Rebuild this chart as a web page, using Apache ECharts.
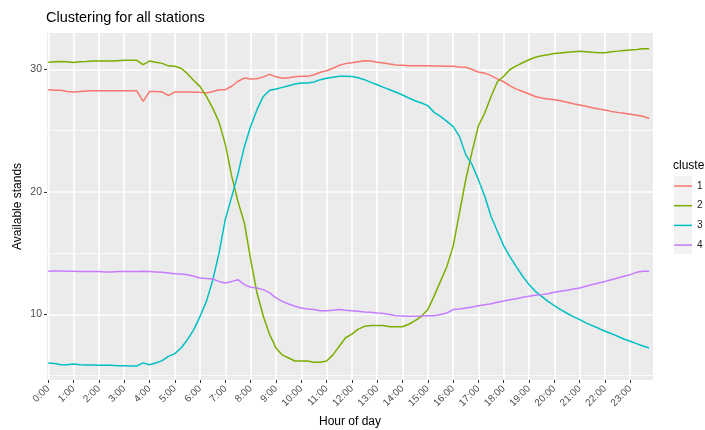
<!DOCTYPE html>
<html>
<head>
<meta charset="utf-8">
<script src="https://cdn.jsdelivr.net/npm/echarts@6/dist/echarts.min.js"></script>
<style>
  html, body { margin: 0; padding: 0; background: #fff; }
  #chart { width: 705px; height: 430px; }
</style>
</head>
<body>
<div id="chart"></div>
<script>
// one reading every 15 minutes, 0:00 .. 23:45 (hours as numbers)
const times = Array.from({ length: 96 }, (_, i) => i / 4)

const hourTicks = [0, 1, 2, 3, 4, 5, 6, 7, 8, 9, 10, 11, 12, 13, 14, 15, 16, 17, 18, 19, 20, 21, 22, 23]
const hourLabels = ["0:00", "1:00", "2:00", "3:00", "4:00", "5:00", "6:00", "7:00", "8:00", "9:00", "10:00", "11:00",
  "12:00", "13:00", "14:00", "15:00", "16:00", "17:00", "18:00", "19:00", "20:00", "21:00", "22:00", "23:00"]
const yTicks = [10, 20, 30]
const yMinorTicks = [5, 15, 25]

const clusterNames = ["1", "2", "3", "4"]
const clusterColors = ["#F8766D", "#7CAE00", "#00BFC4", "#C77CFF"]

const cluster1 = [
  28.35, 28.3, 28.3, 28.2, 28.17, 28.2, 28.25, 28.27,
  28.27, 28.27, 28.27, 28.27, 28.27, 28.27, 28.25, 27.4,
  28.2, 28.2, 28.17, 27.86, 28.17, 28.17, 28.17, 28.14,
  28.14, 28.08, 28.2, 28.35, 28.35, 28.63, 29.04, 29.3,
  29.22, 29.25, 29.4, 29.6, 29.4, 29.28, 29.33, 29.4,
  29.44, 29.44, 29.57, 29.77, 29.9, 30.1, 30.34, 30.48,
  30.55, 30.64, 30.72, 30.69, 30.6, 30.53, 30.45, 30.37,
  30.34, 30.3, 30.3, 30.3, 30.3, 30.28, 30.28, 30.26,
  30.26, 30.2, 30.18, 30.0, 29.8, 29.7, 29.5, 29.24,
  29.0, 28.67, 28.4, 28.2, 28.0, 27.8, 27.67, 27.6,
  27.53, 27.44, 27.33, 27.2, 27.1, 27.0, 26.87, 26.77,
  26.7, 26.58, 26.5, 26.42, 26.34, 26.26, 26.18, 26.0,
]
const cluster2 = [
  30.6, 30.64, 30.66, 30.64, 30.58, 30.64, 30.66, 30.69,
  30.69, 30.69, 30.69, 30.72, 30.75, 30.75, 30.75, 30.4,
  30.69, 30.6, 30.5, 30.3, 30.26, 30.1, 29.66, 29.1,
  28.6, 27.8, 26.85, 25.7, 23.87, 21.3, 19.2, 17.47,
  14.48, 11.75, 9.85, 8.35, 7.27, 6.7, 6.45, 6.2,
  6.2, 6.2, 6.1, 6.1, 6.2, 6.7, 7.4, 8.1,
  8.4, 8.8, 9.03, 9.1, 9.1, 9.1, 9.0, 9.0,
  9.0, 9.2, 9.5, 9.85, 10.4, 11.5, 12.7, 13.9,
  15.56, 18.3, 21.0, 23.3, 25.4, 26.45, 27.8, 29.0,
  29.45, 30.0, 30.3, 30.55, 30.8, 31.0, 31.13, 31.2,
  31.3, 31.35, 31.4, 31.45, 31.48, 31.45, 31.4, 31.37,
  31.37, 31.45, 31.5, 31.56, 31.6, 31.64, 31.7, 31.7,
]
const cluster3 = [
  6.04, 5.99, 5.9, 5.9, 5.96, 5.9, 5.88, 5.88,
  5.85, 5.85, 5.85, 5.82, 5.82, 5.8, 5.8, 6.05,
  5.9, 6.04, 6.23, 6.58, 6.8, 7.26, 7.94, 8.76,
  9.85, 11.07, 12.8, 15.02, 17.8, 19.6, 21.5, 23.7,
  25.36, 26.72, 27.8, 28.3, 28.4, 28.54, 28.68, 28.82,
  28.9, 28.9, 28.98, 29.17, 29.28, 29.36, 29.44, 29.44,
  29.42, 29.33, 29.17, 28.95, 28.76, 28.54, 28.35, 28.14,
  27.92, 27.67, 27.45, 27.26, 27.05, 26.5, 26.18, 25.77,
  25.36, 24.54, 23.05, 22.23, 21.0, 19.65, 18.0, 16.8,
  15.6, 14.7, 13.88, 13.12, 12.44, 11.89, 11.48, 11.07,
  10.72, 10.4, 10.1, 9.82, 9.58, 9.31, 9.09, 8.87,
  8.63, 8.44, 8.22, 8.0, 7.81, 7.62, 7.43, 7.26,
]
const cluster4 = [
  13.52, 13.55, 13.55, 13.52, 13.52, 13.5, 13.5, 13.5,
  13.5, 13.47, 13.47, 13.5, 13.5, 13.5, 13.5, 13.52,
  13.5, 13.47, 13.44, 13.39, 13.33, 13.3, 13.25, 13.12,
  12.98, 12.93, 12.9, 12.7, 12.57, 12.7, 12.84, 12.44,
  12.22, 12.16, 12.03, 11.76, 11.35, 11.07, 10.86, 10.67,
  10.53, 10.45, 10.4, 10.31, 10.31, 10.34, 10.4, 10.34,
  10.3, 10.26, 10.2, 10.18, 10.12, 10.07, 9.99, 9.9,
  9.88, 9.85, 9.85, 9.88, 9.9, 9.9, 9.99, 10.12,
  10.4, 10.45, 10.53, 10.61, 10.72, 10.8, 10.88, 10.99,
  11.1, 11.2, 11.29, 11.4, 11.48, 11.56, 11.62, 11.7,
  11.81, 11.89, 11.97, 12.08, 12.16, 12.3, 12.44, 12.57,
  12.7, 12.84, 12.98, 13.12, 13.25, 13.44, 13.52, 13.52,
]
const clusters = [cluster1, cluster2, cluster3, cluster4]

const FONT = '"Liberation Sans", Arial, Helvetica, sans-serif'
const Y_MIN = 4.65
const Y_MAX = 32.98

const chart = echarts.init(document.getElementById("chart"), null, { renderer: "canvas" })

chart.setOption({
  animation: false,
  textStyle: { fontFamily: FONT },
  title: [
    {
      text: "Clustering for all stations",
      left: 46,
      top: 10,
      padding: 0,
      textStyle: { fontSize: 14.5, fontWeight: "normal", color: "#000", fontFamily: FONT },
    },
    {
      text: "cluster",
      left: 673,
      top: 160,
      padding: 0,
      textStyle: { fontSize: 12, fontWeight: "normal", color: "#000", fontFamily: FONT },
    },
  ],
  graphic: [
    {
      type: "rect",
      left: 674,
      top: 176,
      shape: { width: 18, height: 78 },
      style: { fill: "#F2F2F2" },
      z: 0,
    },
  ],
  legend: {
    orient: "vertical",
    left: 674,
    top: 181,
    padding: 0,
    icon: "path://M0,0H36V3H0Z",
    itemWidth: 18,
    itemHeight: 14,
    itemGap: 9.7,
    data: clusterNames,
    textStyle: { fontSize: 10, color: "#1A1A1A", fontFamily: FONT },
  },
  grid: {
    left: 47,
    top: 33,
    width: 606,
    height: 347,
    show: true,
    backgroundColor: "#EBEBEB",
    borderWidth: 0,
    containLabel: false,
    outerBoundsMode: "none",
  },
  xAxis: {
    type: "value",
    min: -0.05,
    max: 23.9,
    name: "Hour of day",
    nameLocation: "middle",
    nameGap: 36,
    nameTextStyle: { fontSize: 12, color: "#000", fontFamily: FONT },
    axisLine: { show: false, onZero: false },
    axisTick: { show: true, length: 3, lineStyle: { color: "#333" }, customValues: hourTicks },
    axisLabel: {
      customValues: hourTicks,
      formatter: (value) => hourLabels[Math.round(value)],
      rotate: 45,
      margin: 7,
      fontSize: 10,
      color: "#4D4D4D",
      fontFamily: FONT,
    },
    splitLine: { show: true, lineStyle: { color: "#fff", width: 1.6 } },
  },
  yAxis: [
    {
      type: "value",
      min: Y_MIN,
      max: Y_MAX,
      name: "Available stands",
      nameLocation: "middle",
      nameRotate: 90,
      nameGap: 23,
      nameMoveOverlap: false,
      nameTextStyle: { fontSize: 12, color: "#000", fontFamily: FONT },
      axisLine: { show: false, onZero: false },
      axisTick: { show: true, length: 3, lineStyle: { color: "#333" }, customValues: yTicks },
      axisLabel: { customValues: yTicks, margin: 5, fontSize: 10.5, color: "#4D4D4D", fontFamily: FONT },
      splitLine: { show: true, lineStyle: { color: "#fff", width: 1.6 } },
    },
    {
      type: "value",
      min: Y_MIN,
      max: Y_MAX,
      axisLine: { show: false },
      axisTick: { show: false, customValues: yMinorTicks },
      axisLabel: { show: false, customValues: yMinorTicks },
      splitLine: { show: true, lineStyle: { color: "#fff", width: 0.8 } },
    },
  ],
  series: clusters.map((values, i) => ({
    name: clusterNames[i],
    type: "line",
    symbol: "none",
    data: times.map((t, j) => [t, values[j]]),
    lineStyle: { color: clusterColors[i], width: 1.5 },
    itemStyle: { color: clusterColors[i] },
    emphasis: { disabled: true },
  })),
})
</script>
</body>
</html>
